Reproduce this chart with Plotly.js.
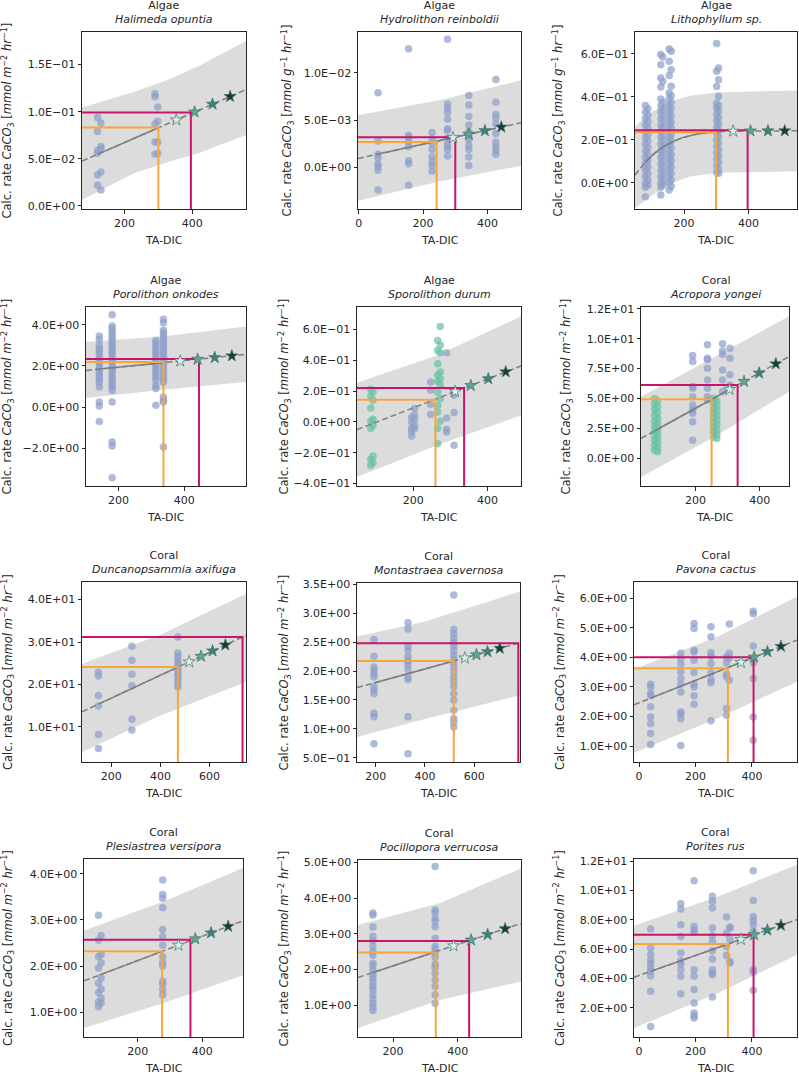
<!DOCTYPE html>
<html>
<head>
<meta charset="utf-8">
<script src="https://cdn.plot.ly/plotly-3.0.1.min.js"></script>
<style>
  html, body { margin: 0; padding: 0; background: #fff; }
  #chart { width: 799px; height: 1075px; }
</style>
</head>
<body>
<div id="chart"></div>
<script>
// ---------- Halimeda opuntia ----------
const halimedaCols = [120, 130, 290, 298];
const halimedaVals = [
  [0.094, 0.079, 0.059, 0.056, 0.033, 0.022],
  [0.088, 0.063, 0.061, 0.036, 0.017],
  [0.119, 0.116, 0.087, 0.068, 0.055],
  [0.105, 0.090, 0.068, 0.056]
];
const halimedaFitX = [74, 120, 298, 559];
const halimedaFitY = [0.0476, 0.0548, 0.0827, 0.1235];
const halimedaBandX = [74, 227, 325, 424, 559];
const halimedaBandHi = [0.1045, 0.121, 0.1334, 0.1493, 0.175];
const halimedaBandLo = [0.0064, 0.0346, 0.0462, 0.0568, 0.0752];
const halimedaNow = [300, 0.0833];
const halimedaFuture = [396, 0.0992];
const halimedaStarX = [353, 407, 460, 512];
const halimedaStarY = [0.0913, 0.0997, 0.108, 0.1162];
const halimedaTicks = [0, 0.05, 0.1, 0.15];
const halimedaTickText = ['0.0E+00', '5.0E\u221202', '1.0E\u221201', '1.5E\u221201'];

// ---------- Hydrolithon reinboldii ----------
const hydroCols = [60, 155, 228, 276, 342, 426];
const hydroVals = [
  [0.0079, 0.0028, 0.0014, 0.0010, 0.0004, 0.0001, -0.0003, -0.0024],
  [0.01257, 0.0034, 0.0031, 0.0027, 0.0022, 0.0007, 0.0004, -0.0019],
  [0.0037, 0.0030, 0.0025, 0.0019, 0.0011, 0.0006, 0.0002, -0.0004],
  [0.01356, 0.0067, 0.0063, 0.0058, 0.0051, 0.0041, 0.0039, 0.0031, 0.0025, 0.0022, 0.0019, 0.0012],
  [0.0076, 0.0066, 0.0054, 0.0045, 0.0038, 0.0032, 0.0029, 0.0023, 0.0019, 0.0011, 0.0002],
  [0.0093, 0.0069, 0.0056, 0.0052, 0.0046, 0.0036, 0.0027, 0.0022, 0.0018, 0.0014]
];
const hydroFitX = [-2, 60, 426, 504];
const hydroFitY = [0.00095, 0.00141, 0.00414, 0.00472];
const hydroBandX = [-2, 250, 504];
const hydroBandHi = [0.00553, 0.0071, 0.00923];
const hydroBandLo = [-0.00352, -0.0015, 0.00018];
const hydroNow = [242, 0.0027];
const hydroFuture = [300, 0.0032];
const hydroStarX = [293, 342, 392, 443];
const hydroStarY = [0.00315, 0.00352, 0.00389, 0.00427];
const hydroTicks = [0, 0.005, 0.01];
const hydroTickText = ['0.0E+00', '5.0E\u221203', '1.0E\u221202'];

// ---------- Lithophyllum sp. ----------
const lithoCols = [80, 88, 128, 134, 154, 160, 301, 307];
const lithoVals = [
  [0.36, 0.33, 0.30, 0.27, 0.24, 0.21, 0.18, 0.15, 0.12, 0.09, 0.06, 0.03, 0.0, -0.02, -0.064],
  [0.345, 0.315, 0.285, 0.255, 0.225, 0.195, 0.165, 0.135, 0.105, 0.075, 0.045, 0.015, -0.01],
  [0.597, 0.55, 0.488, 0.446, 0.39, 0.36, 0.33, 0.30, 0.27, 0.24, 0.21, 0.18, 0.15, 0.12, 0.09, 0.06, 0.03, 0.0, -0.02, -0.056],
  [0.586, 0.472, 0.375, 0.345, 0.315, 0.285, 0.255, 0.225, 0.195, 0.165, 0.135, 0.105, 0.075, 0.045, 0.015, -0.01],
  [0.623, 0.566, 0.5, 0.418, 0.39, 0.36, 0.33, 0.30, 0.27, 0.24, 0.21, 0.18, 0.15, 0.12, 0.09, 0.06, 0.03, 0.0, -0.033],
  [0.612, 0.527, 0.45, 0.405, 0.375, 0.345, 0.315, 0.285, 0.255, 0.225, 0.195, 0.165, 0.135, 0.105, 0.075, 0.045, 0.015, -0.015],
  [0.648, 0.519, 0.449, 0.371, 0.35, 0.32, 0.29, 0.26, 0.23, 0.20, 0.17, 0.14, 0.11, 0.08, 0.05],
  [0.535, 0.48, 0.403, 0.36, 0.335, 0.305, 0.275, 0.245, 0.215, 0.185, 0.155, 0.125, 0.095, 0.065, 0.045]
];
const lithoFitX = [48, 80, 110, 140, 170, 200, 240, 280, 307, 350, 450, 550];
const lithoFitY = [0.037, 0.097, 0.140, 0.172, 0.196, 0.213, 0.228, 0.236, 0.239, 0.241, 0.2425, 0.2425];
const lithoBandX = [48, 95, 157, 219, 302, 550];
const lithoBandHi = [0.263, 0.325, 0.379, 0.406, 0.421, 0.430];
const lithoBandLo = [-0.118, -0.064, -0.002, 0.030, 0.048, 0.054];
const lithoNow = [299, 0.236];
const lithoFuture = [397, 0.2455];
const lithoStarX = [352, 406, 460, 512];
const lithoStarY = [0.241, 0.242, 0.2425, 0.2425];
const lithoTicks = [0, 0.2, 0.4, 0.6];
const lithoTickText = ['0.0E+00', '2.0E\u221201', '4.0E\u221201', '6.0E\u221201'];

// ---------- Porolithon onkodes ----------
const poroCols = [142, 181, 314, 337];
const poroVals = [
  [3.45, 3.29, 3.0, 2.84, 2.7, 2.55, 2.4, 2.25, 2.1, 1.95, 1.8, 1.65, 1.5, 1.35, 1.2, 0.97, 0.24, 0.05, -0.70],
  [4.49, 3.94, 3.81, 3.65, 3.5, 3.35, 3.2, 3.05, 2.9, 2.75, 2.6, 2.45, 2.3, 2.15, 2.0, 1.85, 1.7, 1.55, 1.4, 1.25, 1.1, 0.95, 0.8, 0.24, -1.70, -1.90, -3.44],
  [3.24, 3.1, 2.95, 2.8, 2.65, 2.5, 2.35, 2.2, 2.05, 1.9, 1.75, 1.6, 1.45, 1.3, 1.05, 0.9, 0.08],
  [4.27, 4.1, 3.73, 3.6, 3.45, 3.3, 3.15, 3.0, 2.85, 2.7, 2.55, 2.4, 2.25, 2.1, 1.95, 1.8, 1.65, 1.5, 1.35, 1.2, 0.49, 0.32, 0.24, -1.95]
];
const poroFitX = [101.5, 142, 337, 588];
const poroFitY = [1.78, 1.845, 2.157, 2.56];
const poroBandX = [101.5, 345, 588];
const poroBandHi = [3.16, 3.45, 3.92];
const poroBandLo = [0.44, 0.85, 1.22];
const poroNow = [337, 2.19];
const poroFuture = [445, 2.335];
const poroStarX = [388, 441, 493, 545];
const poroStarY = [2.238, 2.323, 2.406, 2.49];
const poroTicks = [-2, 0, 2, 4];
const poroTickText = ['\u22122.0E+00', '0.0E+00', '2.0E+00', '4.0E+00'];

// ---------- Sporolithon durum ----------
const sporoCols = [196, 204, 247, 290, 310];
const sporoVals = [
  [0.032, 0.0, -0.039, -0.065, -0.091],
  [0.087, 0.045, 0.017, -0.022, -0.043],
  [0.26, 0.206, 0.113, 0.048],
  [0.45, 0.026, -0.048, -0.065],
  [0.195, 0.173, 0.061, -0.152]
];
const sporoGreenCols = [86, 92, 266, 273];
const sporoGreenVals = [
  [0.212, 0.169, 0.091, 0.004, -0.043, -0.242, -0.281],
  [0.195, 0.141, 0.017, -0.022, -0.221, -0.264],
  [0.53, 0.465, 0.379, 0.303, 0.264, 0.195, 0.108, 0.065, -0.043, -0.141],
  [0.621, 0.498, 0.45, 0.325, 0.281, 0.238, 0.152, 0.004]
];
const sporoFitX = [49, 86, 312, 490];
const sporoFitY = [-0.05, -0.0153, 0.197, 0.364];
const sporoBandX = [49, 265, 490];
const sporoBandHi = [0.255, 0.433, 0.686];
const sporoBandLo = [-0.357, -0.152, 0.043];
const sporoNow = [260, 0.145];
const sporoFuture = [337, 0.221];
const sporoStarX = [313, 355, 402, 449];
const sporoStarY = [0.198, 0.237, 0.281, 0.326];
const sporoTicks = [-0.4, -0.2, 0, 0.2, 0.4, 0.6];
const sporoTickText = ['\u22124.0E\u221201', '\u22122.0E\u221201', '0.0E+00', '2.0E\u221201', '4.0E\u221201', '6.0E\u221201'];

// ---------- Acropora yongei ----------
const acroCols = [191, 237, 284, 307];
const acroVals = [
  [8.59, 8.09, 6.0, 5.86, 5.16, 4.46, 4.05, 3.77, 3.07, 1.53],
  [9.49, 8.37, 8.23, 7.53, 6.56, 5.86, 5.16, 4.88],
  [9.57, 8.98, 8.7, 7.39, 6.56, 5.58],
  [9.2, 8.37, 6.98, 6.14]
];
const acroGreenCols = [72, 82, 256, 266];
const acroGreenVals = [
  [5.0, 4.55, 4.1, 3.6, 3.1, 2.7, 2.3, 1.9, 1.5, 1.1, 0.7],
  [4.8, 4.3, 3.85, 3.35, 2.9, 2.5, 2.1, 1.7, 1.3, 0.9, 0.56],
  [5.02, 4.6, 4.2, 3.8, 3.4, 3.0, 2.6, 2.2, 1.8],
  [4.8, 4.4, 4.0, 3.6, 3.2, 2.8, 2.4, 2.0, 1.67]
];
const acroFitX = [30, 72, 307, 491];
const acroFitY = [1.68, 2.30, 5.78, 8.51];
const acroBandX = [30, 262, 491];
const acroBandHi = [5.16, 8.5, 11.86];
const acroBandLo = [-1.53, 1.85, 5.58];
const acroNow = [250, 4.94];
const acroFuture = [331, 6.14];
const acroStarX = [306, 351, 398, 450];
const acroStarY = [5.77, 6.43, 7.13, 7.90];
const acroTicks = [0, 2.5, 5, 7.5, 10, 12.5];
const acroTickText = ['0.0E+00', '2.5E+00', '5.0E+00', '7.5E+00', '1.0E+01', '1.2E+01'];

// ---------- Duncanopsammia axifuga ----------
const duncCols = [148, 284, 471];
const duncVals = [
  [22.9, 22.0, 17.4, 14.9, 8.2, 4.9],
  [29.0, 25.7, 22.4, 19.7, 11.8, 9.3],
  [31.2, 27.4, 26.6, 25.7, 24.9, 24.1, 23.3, 22.5, 21.8, 21.0, 20.2, 19.4]
];
const duncFitX = [81, 148, 471, 748];
const duncFitY = [13.57, 15.38, 24.1, 31.58];
const duncBandX = [81, 400, 748];
const duncBandHi = [24.9, 31.7, 41.4];
const duncBandLo = [4.08, 12.7, 20.6];
const duncNow = [471, 24.1];
const duncFuture = [734, 31.2];
const duncStarX = [517, 565, 612, 664];
const duncStarY = [25.34, 26.64, 27.91, 29.31];
const duncTicks = [10, 20, 30, 40];
const duncTickText = ['1.0E+01', '2.0E+01', '3.0E+01', '4.0E+01'];

// ---------- Montastraea cavernosa ----------
const montCols = [193, 331, 517];
const montVals = [
  [2.55, 2.26, 2.07, 2.01, 1.95, 1.90, 1.73, 1.67, 1.61, 1.27, 1.21, 0.74],
  [2.84, 2.73, 2.43, 2.36, 2.25, 2.18, 2.11, 2.03, 1.9, 1.85, 1.21, 0.57],
  [3.32, 2.72, 2.65, 2.57, 2.5, 2.43, 2.36, 2.28, 2.21, 2.14, 2.07, 1.99, 1.9, 1.82, 1.73, 1.61, 1.5, 1.32, 1.18, 1.12, 1.03]
];
const montFitX = [124, 193, 517, 786];
const montFitY = [1.714, 1.795, 2.176, 2.492];
const montBandX = [124, 400, 786];
const montBandHi = [2.6, 2.86, 3.38];
const montBandLo = [0.86, 1.17, 1.58];
const montNow = [517, 2.176];
const montFuture = [779, 2.484];
const montStarX = [562, 609, 654, 704];
const montStarY = [2.229, 2.284, 2.337, 2.396];
const montTicks = [0.5, 1.0, 1.5, 2.0, 2.5, 3.0, 3.5];
const montTickText = ['5.0E\u221201', '1.0E+00', '1.5E+00', '2.0E+00', '2.5E+00', '3.0E+00', '3.5E+00'];

// ---------- Pavona cactus ----------
const pavoCols = [41, 148, 195, 255, 310, 320, 405];
const pavoVals = [
  [3.09, 3.0, 2.78, 2.7, 2.33, 1.99, 1.77, 1.43, 1.06],
  [4.14, 3.96, 3.77, 3.51, 3.29, 3.09, 2.83, 2.16, 2.08, 1.93, 1.03],
  [5.14, 4.97, 4.24, 4.18, 3.9, 3.49, 3.09, 3.0, 2.7, 2.42],
  [5.03, 4.69, 4.15, 4.04, 3.79, 3.48, 3.25, 3.14, 1.86],
  [4.02, 3.82, 3.43, 3.35, 2.27, 2.05],
  [5.12, 4.14, 3.97, 3.23],
  [5.55, 5.47, 4.38, 3.82, 3.29, 1.99, 1.2]
];
const pavoFitX = [-18, 41, 405, 560];
const pavoFitY = [2.4, 2.623, 3.996, 4.58];
const pavoBandX = [-18, 280, 560];
const pavoBandHi = [3.6, 4.7, 6.05];
const pavoBandLo = [0.77, 1.95, 3.18];
const pavoNow = [315, 3.63];
const pavoFuture = [406, 4.0];
const pavoStarX = [361, 408, 455, 503];
const pavoStarY = [3.83, 4.01, 4.19, 4.37];
const pavoTicks = [1, 2, 3, 4, 5, 6];
const pavoTickText = ['1.0E+00', '2.0E+00', '3.0E+00', '4.0E+00', '5.0E+00', '6.0E+00'];

// ---------- Plesiastrea versipora ----------
const plesCols = [78, 86, 277];
const plesVals = [
  [3.1, 2.56, 2.2, 1.96, 1.63, 1.43, 1.22, 1.12],
  [2.66, 2.25, 2.07, 1.74, 1.5, 1.31, 1.2],
  [3.86, 3.55, 3.47, 3.26, 2.79, 2.64, 2.45, 2.2, 2.07, 2.0, 1.67, 1.61, 1.49, 1.38]
];
const plesFitX = [33, 80, 277, 526];
const plesFitY = [1.68, 1.804, 2.323, 2.98];
const plesBandX = [33, 280, 526];
const plesBandHi = [2.77, 3.4, 4.12];
const plesBandLo = [0.66, 1.2, 1.80];
const plesNow = [275, 2.32];
const plesFuture = [363, 2.57];
const plesStarX = [326, 378, 427, 480];
const plesStarY = [2.453, 2.590, 2.719, 2.859];
const plesTicks = [1, 2, 3, 4];
const plesTickText = ['1.0E+00', '2.0E+00', '3.0E+00', '4.0E+00'];

// ---------- Pocillopora verrucosa ----------
const pociCols = [138, 330];
const pociVals = [
  [3.58, 3.53, 3.19, 2.93, 2.81, 2.65, 2.51, 2.4, 2.18, 2.11, 1.98, 1.86, 1.76, 1.64, 1.53, 1.44, 1.3, 1.18, 1.06, 0.95, 0.86],
  [4.88, 3.67, 3.6, 3.44, 3.35, 3.2, 2.88, 2.65, 2.57, 2.46, 2.35, 2.16, 2.06, 1.9, 1.72, 1.53, 1.3, 1.06]
];
const pociFitX = [92, 138, 330, 595];
const pociFitY = [1.78, 1.918, 2.494, 3.29];
const pociBandX = [92, 345, 595];
const pociBandHi = [3.25, 3.86, 4.83];
const pociBandLo = [0.37, 1.15, 1.67];
const pociNow = [332, 2.48];
const pociFuture = [435, 2.80];
const pociStarX = [387, 441, 492, 546];
const pociStarY = [2.666, 2.828, 2.981, 3.143];
const pociTicks = [1, 2, 3, 4, 5];
const pociTickText = ['1.0E+00', '2.0E+00', '3.0E+00', '4.0E+00', '5.0E+00'];

// ---------- Porites rus ----------
const poriCols = [41, 148, 195, 260, 310, 322, 405];
const poriVals = [
  [7.38, 6.08, 5.63, 5.24, 5.01, 4.71, 4.49, 4.19, 3.12, 0.72],
  [9.11, 8.74, 7.67, 6.87, 5.73, 5.21, 4.99, 4.6, 4.15, 2.96],
  [10.68, 7.56, 7.33, 7.15, 4.6, 4.15, 3.24, 2.32, 1.64, 1.45, 1.29],
  [9.61, 9.27, 8.81, 7.44, 6.92, 6.53, 5.9, 5.33, 4.6, 4.37, 4.26, 2.73],
  [8.2, 7.1, 6.19, 5.56],
  [7.51, 7.44, 6.69, 5.16, 5.05],
  [11.36, 9.33, 8.24, 7.97, 7.67, 7.22, 4.6, 4.42, 3.19]
];
const poriFitX = [-18, 41, 405, 560];
const poriFitY = [4.08, 4.482, 6.963, 8.02];
const poriBandX = [-18, 280, 560];
const poriBandHi = [7.6, 9.6, 11.77];
const poriBandLo = [0.61, 3.0, 5.62];
const poriNow = [315, 6.35];
const poriFuture = [406, 6.99];
const poriStarX = [361, 408, 455, 503];
const poriStarY = [6.664, 6.985, 7.305, 7.632];
const poriTicks = [2, 4, 6, 8, 10, 12];
const poriTickText = ['2.0E+00', '4.0E+00', '6.0E+00', '8.0E+00', '1.0E+01', '1.2E+01'];

// ---------- panel setup ----------
const W = 799, H = 1075;
const FONT = '"DejaVu Sans", "Liberation Sans", sans-serif';
const BLUE = 'rgba(141,160,203,0.72)';
const GREEN = 'rgba(102,194,165,0.72)';
const BAND = '#dcdcdc';
const FIT = '#7f7f7f';
const NOW = '#f6a63d';
const FUTURE = '#c8156b';
const STAR_COLORS = ['#d8f1e9', '#5aa796', '#3a8379', '#173c37'];
const INK = '#262626';

const panels = [
  {group: 'Algae', name: 'Halimeda opuntia', unit: 'm', box: [82, 246, 32, 209], xr: [74, 559], yr: [-0.0032, 0.1846], xt: [200, 400],
   cols: halimedaCols, vals: halimedaVals, fitX: halimedaFitX, fitY: halimedaFitY, bandX: halimedaBandX, bandHi: halimedaBandHi, bandLo: halimedaBandLo,
   now: halimedaNow, future: halimedaFuture, starX: halimedaStarX, starY: halimedaStarY, yt: halimedaTicks, ytt: halimedaTickText, ylx: 8},
  {group: 'Algae', name: 'Hydrolithon reinboldii', unit: 'g', box: [358, 521, 32, 209], xr: [-2, 504], yr: [-0.0044, 0.01433], xt: [0, 200, 400],
   cols: hydroCols, vals: hydroVals, fitX: hydroFitX, fitY: hydroFitY, bandX: hydroBandX, bandHi: hydroBandHi, bandLo: hydroBandLo,
   now: hydroNow, future: hydroFuture, starX: hydroStarX, starY: hydroStarY, yt: hydroTicks, ytt: hydroTickText, ylx: 288},
  {group: 'Algae', name: 'Lithophyllum sp.', unit: 'g', box: [635, 797, 32, 209], xr: [48, 550], yr: [-0.121, 0.702], xt: [200, 400],
   cols: lithoCols, vals: lithoVals, fitX: lithoFitX, fitY: lithoFitY, bandX: lithoBandX, bandHi: lithoBandHi, bandLo: lithoBandLo,
   now: lithoNow, future: lithoFuture, starX: lithoStarX, starY: lithoStarY, yt: lithoTicks, ytt: lithoTickText, ylx: 559},
  {group: 'Algae', name: 'Porolithon onkodes', unit: 'm', box: [86, 246, 307, 486], xr: [101.5, 588], yr: [-3.844, 4.866], xt: [200, 400],
   cols: poroCols, vals: poroVals, fitX: poroFitX, fitY: poroFitY, bandX: poroBandX, bandHi: poroBandHi, bandLo: poroBandLo,
   now: poroNow, future: poroFuture, starX: poroStarX, starY: poroStarY, yt: poroTicks, ytt: poroTickText, ylx: 8},
  {group: 'Algae', name: 'Sporolithon durum', unit: 'm', box: [357, 521, 307, 486], xr: [49, 490], yr: [-0.416, 0.747], xt: [200, 400],
   cols: sporoCols, vals: sporoVals, gcols: sporoGreenCols, gvals: sporoGreenVals, fitX: sporoFitX, fitY: sporoFitY, bandX: sporoBandX, bandHi: sporoBandHi, bandLo: sporoBandLo,
   now: sporoNow, future: sporoFuture, starX: sporoStarX, starY: sporoStarY, yt: sporoTicks, ytt: sporoTickText, ylx: 285},
  {group: 'Coral', name: 'Acropora yongei', unit: 'm', box: [641, 789, 307, 486], xr: [30, 491], yr: [-2.29, 12.64], xt: [200, 400],
   cols: acroCols, vals: acroVals, gcols: acroGreenCols, gvals: acroGreenVals, fitX: acroFitX, fitY: acroFitY, bandX: acroBandX, bandHi: acroBandHi, bandLo: acroBandLo,
   now: acroNow, future: acroFuture, starX: acroStarX, starY: acroStarY, yt: acroTicks, ytt: acroTickText, ylx: 567},
  {group: 'Coral', name: 'Duncanopsammia axifuga', unit: 'm', box: [82, 246, 582, 762], xr: [81, 748], yr: [1.73, 44.15], xt: [200, 400, 600],
   cols: duncCols, vals: duncVals, fitX: duncFitX, fitY: duncFitY, bandX: duncBandX, bandHi: duncBandHi, bandLo: duncBandLo,
   now: duncNow, future: duncFuture, starX: duncStarX, starY: duncStarY, yt: duncTicks, ytt: duncTickText, ylx: 8},
  {group: 'Coral', name: 'Montastraea cavernosa', unit: 'm', box: [357, 520, 583, 762], xr: [124, 786], yr: [0.425, 3.528], xt: [200, 400, 600],
   cols: montCols, vals: montVals, fitX: montFitX, fitY: montFitY, bandX: montBandX, bandHi: montBandHi, bandLo: montBandLo,
   now: montNow, future: montFuture, starX: montStarX, starY: montStarY, yt: montTicks, ytt: montTickText, ylx: 284},
  {group: 'Coral', name: 'Pavona cactus', unit: 'm', box: [634, 797, 582, 762], xr: [-18, 560], yr: [0.47, 6.54], xt: [0, 200, 400],
   cols: pavoCols, vals: pavoVals, fitX: pavoFitX, fitY: pavoFitY, bandX: pavoBandX, bandHi: pavoBandHi, bandLo: pavoBandLo,
   now: pavoNow, future: pavoFuture, starX: pavoStarX, starY: pavoStarY, yt: pavoTicks, ytt: pavoTickText, ylx: 560},
  {group: 'Coral', name: 'Plesiastrea versipora', unit: 'm', box: [84, 243, 859, 1037], xr: [33, 526], yr: [0.466, 4.317], xt: [200, 400],
   cols: plesCols, vals: plesVals, fitX: plesFitX, fitY: plesFitY, bandX: plesBandX, bandHi: plesBandHi, bandLo: plesBandLo,
   now: plesNow, future: plesFuture, starX: plesStarX, starY: plesStarY, yt: plesTicks, ytt: plesTickText, ylx: 8},
  {group: 'Coral', name: 'Pocillopora verrucosa', unit: 'm', box: [358, 521, 860, 1037], xr: [92, 595], yr: [0.116, 5.065], xt: [200, 400],
   cols: pociCols, vals: pociVals, fitX: pociFitX, fitY: pociFitY, bandX: pociBandX, bandHi: pociBandHi, bandLo: pociBandLo,
   now: pociNow, future: pociFuture, starX: pociStarX, starY: pociStarY, yt: pociTicks, ytt: pociTickText, ylx: 284},
  {group: 'Coral', name: 'Porites rus', unit: 'm', box: [634, 797, 859, 1037], xr: [-18, 560], yr: [0, 12.16], xt: [0, 200, 400],
   cols: poriCols, vals: poriVals, fitX: poriFitX, fitY: poriFitY, bandX: poriBandX, bandHi: poriBandHi, bandLo: poriBandLo,
   now: poriNow, future: poriFuture, starX: poriStarX, starY: poriStarY, yt: poriTicks, ytt: poriTickText, ylx: 560}
];

function expand(cols, vals) {
  const x = [], y = [];
  cols.forEach((c, i) => vals[i].forEach(v => { x.push(c); y.push(v); }));
  return {x, y};
}

const traces = [];
const layout = {
  width: W, height: H,
  margin: {l: 0, r: 0, t: 0, b: 0},
  paper_bgcolor: '#fff', plot_bgcolor: '#fff',
  showlegend: false,
  font: {family: FONT, color: INK, size: 11},
  annotations: []
};

panels.forEach((p, i) => {
  const s = i === 0 ? '' : String(i + 1);
  const xa = 'x' + s, ya = 'y' + s;
  const [L, R, T, B] = p.box;

  layout['xaxis' + s] = {
    domain: [L / W, R / W], anchor: ya, range: p.xr, autorange: false,
    tickvals: p.xt, ticks: 'outside', ticklen: 3.5, tickwidth: 1, tickcolor: INK,
    showline: true, mirror: true, linecolor: INK, linewidth: 1,
    showgrid: false, zeroline: false, fixedrange: true,
    tickfont: {family: FONT, size: 11, color: INK}
  };
  layout['yaxis' + s] = {
    domain: [1 - B / H, 1 - T / H], anchor: xa, range: p.yr, autorange: false,
    tickvals: p.yt, ticktext: p.ytt, ticks: 'outside', ticklen: 3.5, tickwidth: 1, tickcolor: INK,
    showline: true, mirror: true, linecolor: INK, linewidth: 1,
    showgrid: false, zeroline: false, fixedrange: true,
    tickfont: {family: FONT, size: 11, color: INK}
  };

  // prediction band
  traces.push({
    type: 'scatter', mode: 'lines', xaxis: xa, yaxis: ya, hoverinfo: 'skip',
    x: p.bandX.concat(p.bandX.slice().reverse()),
    y: p.bandHi.concat(p.bandLo.slice().reverse()),
    fill: 'toself', fillcolor: BAND, line: {width: 0, color: BAND}
  });

  // observations
  const blue = expand(p.cols, p.vals);
  traces.push({
    type: 'scatter', mode: 'markers', xaxis: xa, yaxis: ya, x: blue.x, y: blue.y,
    marker: {size: 7.5, color: BLUE, line: {width: 0}}
  });
  if (p.gcols) {
    const green = expand(p.gcols, p.gvals);
    traces.push({
      type: 'scatter', mode: 'markers', xaxis: xa, yaxis: ya, x: green.x, y: green.y,
      marker: {size: 7.5, color: GREEN, line: {width: 0}}
    });
  }

  // fitted relationship: dashed over the whole range, solid over the observed range
  traces.push({
    type: 'scatter', mode: 'lines', xaxis: xa, yaxis: ya, x: p.fitX, y: p.fitY,
    line: {color: FIT, width: 1.5, dash: '6px,3px'}
  });
  const lo = Math.min.apply(null, p.cols.concat(p.gcols || []));
  const hi = Math.max.apply(null, p.cols.concat(p.gcols || []));
  const sx = [], sy = [];
  p.fitX.forEach((x, k) => { if (x >= lo && x <= hi) { sx.push(x); sy.push(p.fitY[k]); } });
  traces.push({
    type: 'scatter', mode: 'lines', xaxis: xa, yaxis: ya, x: sx, y: sy,
    line: {color: FIT, width: 1.5}
  });

  // present-day and future guide lines
  [[p.now, NOW], [p.future, FUTURE]].forEach(([pt, col]) => {
    traces.push({
      type: 'scatter', mode: 'lines', xaxis: xa, yaxis: ya,
      x: [p.xr[0], pt[0], pt[0]], y: [pt[1], pt[1], p.yr[0]],
      line: {color: col, width: 2}
    });
  });

  // scenario stars
  traces.push({
    type: 'scatter', mode: 'markers', xaxis: xa, yaxis: ya, x: p.starX, y: p.starY,
    marker: {symbol: 'star', size: 9, color: STAR_COLORS, line: {width: 0.7, color: '#3f6f68'}}
  });

  const cx = (L + R) / 2 / W;
  layout.annotations.push({
    xref: 'paper', yref: 'paper', x: cx, y: 1 - (T - 4) / H, xanchor: 'center', yanchor: 'bottom',
    text: p.group + '<br><i>' + p.name + '</i>', showarrow: false,
    font: {family: FONT, size: 11, color: INK}, align: 'center'
  });
  layout.annotations.push({
    xref: 'paper', yref: 'paper', x: cx, y: 1 - (B + 31) / H, xanchor: 'center', yanchor: 'middle',
    text: 'TA-DIC', showarrow: false, font: {family: FONT, size: 11, color: INK}
  });
  const unitText = p.unit === 'g'
    ? '[<i>mmol g</i><sup>\u22121</sup> <i>hr</i><sup>\u22121</sup>]'
    : '[<i>mmol m</i><sup>\u22122</sup> <i>hr</i><sup>\u22121</sup>]';
  layout.annotations.push({
    xref: 'paper', yref: 'paper', x: p.ylx / W, y: 1 - (T + B) / 2 / H, xanchor: 'center', yanchor: 'middle',
    textangle: -90, text: 'Calc. rate <i>CaCO</i><sub>3</sub> ' + unitText, showarrow: false,
    font: {family: FONT, size: 11.5, color: INK}
  });
});

Plotly.newPlot('chart', traces, layout, {staticPlot: true, displayModeBar: false});
</script>
</body>
</html>
